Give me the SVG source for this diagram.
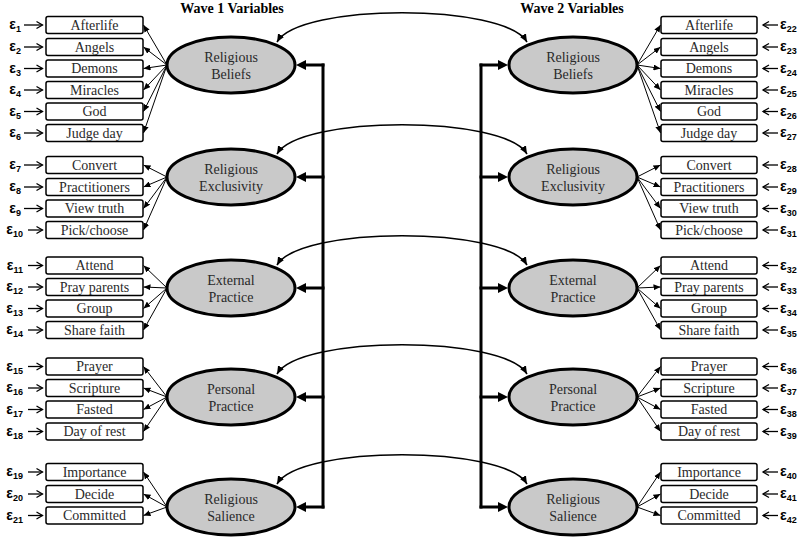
<svg xmlns="http://www.w3.org/2000/svg" width="800" height="537" viewBox="0 0 800 537">
<style>
.box{fill:#fff;stroke:#000;stroke-width:1.5}
.bt{font-family:"Liberation Serif",serif;font-size:14px;fill:#2a2a2a;text-anchor:middle}
.lv{fill:#c9c9c9;stroke:#000;stroke-width:3}
.lt{font-family:"Liberation Serif",serif;font-size:14px;fill:#2a2a2a;text-anchor:middle}
.ttl{font-family:"Liberation Serif",serif;font-size:14px;font-weight:bold;fill:#000;text-anchor:middle}
.eps{font-family:"Liberation Sans",Arial,sans-serif;font-size:14px;font-weight:bold;fill:#000}
.el{text-anchor:end}
.sub{font-size:9px}
.ld{stroke:#000;stroke-width:1;fill:none;marker-end:url(#ah)}
.ea{stroke:#000;stroke-width:1.3;fill:none;marker-end:url(#oa)}
.cv{stroke:#000;stroke-width:1.6;fill:none;marker-start:url(#ca);marker-end:url(#ca)}
.th{stroke:#000;stroke-width:3;fill:none;marker-end:url(#ta)}
.sp{stroke:#000;stroke-width:3;fill:none}
</style>
<defs>
<marker id="ah" viewBox="0 0 10 10" refX="10" refY="5" markerWidth="7" markerHeight="6" markerUnits="userSpaceOnUse" orient="auto" preserveAspectRatio="none"><path d="M0,0 L10,5 L0,10 z" fill="#000"/></marker>
<marker id="ca" viewBox="0 0 10 10" refX="10" refY="5" markerWidth="8" markerHeight="7" markerUnits="userSpaceOnUse" orient="auto-start-reverse" preserveAspectRatio="none"><path d="M0,0 L10,5 L0,10 z" fill="#000"/></marker>
<marker id="ta" viewBox="0 0 10 10" refX="6" refY="5" markerWidth="10" markerHeight="10" markerUnits="userSpaceOnUse" orient="auto" preserveAspectRatio="none"><path d="M0,0 L10,5 L0,10 z" fill="#000"/></marker>
<marker id="oa" viewBox="0 0 8 8" refX="7" refY="4" markerWidth="8" markerHeight="8" markerUnits="userSpaceOnUse" orient="auto" overflow="visible"><path d="M1,0.5 L7,4 L1,7.5" fill="none" stroke="#000" stroke-width="1.3"/></marker>
</defs>
<rect width="800" height="537" fill="#fff"/>
<text class="ttl" x="232" y="13">Wave 1 Variables</text>
<text class="ttl" x="572" y="13">Wave 2 Variables</text>

<g id="connectors">
<path class="cv" d="M277,42 C300,3 504,3 527,42"/>
<path class="cv" d="M277,154 C300,115 504,115 527,154"/>
<path class="cv" d="M277,265 C300,226 504,226 527,265"/>
<path class="cv" d="M277,374 C300,335 504,335 527,374"/>
<path class="cv" d="M277,484 C300,445 504,445 527,484"/>
<path class="sp" d="M323,63.5 V508.5"/>
<path class="sp" d="M481,63.5 V508.5"/>
<path class="th" d="M324.5,65 H300"/><path class="th" d="M324.5,177 H300"/><path class="th" d="M324.5,288 H300"/><path class="th" d="M324.5,397 H300"/><path class="th" d="M324.5,507 H300"/>
<path class="th" d="M479.5,65 H504"/><path class="th" d="M479.5,177 H504"/><path class="th" d="M479.5,288 H504"/><path class="th" d="M479.5,397 H504"/><path class="th" d="M479.5,507 H504"/>
<path class="ld" d="M167,65 L143.5,25"/><path class="ld" d="M167,65 L143.5,47"/><path class="ld" d="M167,65 L143.5,68.5"/><path class="ld" d="M167,65 L143.5,90"/><path class="ld" d="M167,65 L143.5,111.5"/><path class="ld" d="M167,65 L143.5,133"/>
<path class="ld" d="M167,177 L143.5,165"/><path class="ld" d="M167,177 L143.5,187"/><path class="ld" d="M167,177 L143.5,208.5"/><path class="ld" d="M167,177 L143.5,230"/>
<path class="ld" d="M167,288 L143.5,265.5"/><path class="ld" d="M167,288 L143.5,287"/><path class="ld" d="M167,288 L143.5,308.5"/><path class="ld" d="M167,288 L143.5,330"/>
<path class="ld" d="M167,397 L143.5,366.5"/><path class="ld" d="M167,397 L143.5,388"/><path class="ld" d="M167,397 L143.5,409.5"/><path class="ld" d="M167,397 L143.5,431.5"/>
<path class="ld" d="M167,507 L143.5,472"/><path class="ld" d="M167,507 L143.5,494"/><path class="ld" d="M167,507 L143.5,515.5"/>
<path class="ld" d="M637,65 L660.5,25"/><path class="ld" d="M637,65 L660.5,47"/><path class="ld" d="M637,65 L660.5,68.5"/><path class="ld" d="M637,65 L660.5,90"/><path class="ld" d="M637,65 L660.5,111.5"/><path class="ld" d="M637,65 L660.5,133"/>
<path class="ld" d="M637,177 L660.5,165"/><path class="ld" d="M637,177 L660.5,187"/><path class="ld" d="M637,177 L660.5,208.5"/><path class="ld" d="M637,177 L660.5,230"/>
<path class="ld" d="M637,288 L660.5,265.5"/><path class="ld" d="M637,288 L660.5,287"/><path class="ld" d="M637,288 L660.5,308.5"/><path class="ld" d="M637,288 L660.5,330"/>
<path class="ld" d="M637,397 L660.5,366.5"/><path class="ld" d="M637,397 L660.5,388"/><path class="ld" d="M637,397 L660.5,409.5"/><path class="ld" d="M637,397 L660.5,431.5"/>
<path class="ld" d="M637,507 L660.5,472"/><path class="ld" d="M637,507 L660.5,494"/><path class="ld" d="M637,507 L660.5,515.5"/>
<path class="ea" d="M24,25 H42.5"/><path class="ea" d="M24,47 H42.5"/><path class="ea" d="M24,68.5 H42.5"/><path class="ea" d="M24,90 H42.5"/><path class="ea" d="M24,111.5 H42.5"/><path class="ea" d="M24,133 H42.5"/>
<path class="ea" d="M24,165 H42.5"/><path class="ea" d="M24,187 H42.5"/><path class="ea" d="M24,208.5 H42.5"/><path class="ea" d="M28,230 H42.5"/>
<path class="ea" d="M28,265.5 H42.5"/><path class="ea" d="M28,287 H42.5"/><path class="ea" d="M28,308.5 H42.5"/><path class="ea" d="M28,330 H42.5"/>
<path class="ea" d="M28,366.5 H42.5"/><path class="ea" d="M28,388 H42.5"/><path class="ea" d="M28,409.5 H42.5"/><path class="ea" d="M28,431.5 H42.5"/>
<path class="ea" d="M28,472 H42.5"/><path class="ea" d="M28,494 H42.5"/><path class="ea" d="M28,515.5 H42.5"/>
<path class="ea" d="M778,25 H763"/><path class="ea" d="M778,47 H763"/><path class="ea" d="M778,68.5 H763"/><path class="ea" d="M778,90 H763"/><path class="ea" d="M778,111.5 H763"/><path class="ea" d="M778,133 H763"/>
<path class="ea" d="M778,165 H763"/><path class="ea" d="M778,187 H763"/><path class="ea" d="M778,208.5 H763"/><path class="ea" d="M778,230 H763"/>
<path class="ea" d="M778,265.5 H763"/><path class="ea" d="M778,287 H763"/><path class="ea" d="M778,308.5 H763"/><path class="ea" d="M778,330 H763"/>
<path class="ea" d="M778,366.5 H763"/><path class="ea" d="M778,388 H763"/><path class="ea" d="M778,409.5 H763"/><path class="ea" d="M778,431.5 H763"/>
<path class="ea" d="M778,472 H763"/><path class="ea" d="M778,494 H763"/><path class="ea" d="M778,515.5 H763"/>
</g>

<g id="w1-beliefs"><ellipse class="lv" cx="231" cy="65" rx="64" ry="28"/><text class="lt" x="231" y="61.5">Religious</text><text class="lt" x="231" y="79">Beliefs</text></g>
<g id="w1-exclusivity"><ellipse class="lv" cx="231" cy="177" rx="64" ry="28"/><text class="lt" x="231" y="173.5">Religious</text><text class="lt" x="231" y="191">Exclusivity</text></g>
<g id="w1-external"><ellipse class="lv" cx="231" cy="288" rx="64" ry="28"/><text class="lt" x="231" y="284.5">External</text><text class="lt" x="231" y="302">Practice</text></g>
<g id="w1-personal"><ellipse class="lv" cx="231" cy="397" rx="64" ry="28"/><text class="lt" x="231" y="393.5">Personal</text><text class="lt" x="231" y="411">Practice</text></g>
<g id="w1-salience"><ellipse class="lv" cx="231" cy="507" rx="64" ry="28"/><text class="lt" x="231" y="503.5">Religious</text><text class="lt" x="231" y="521">Salience</text></g>
<g id="w2-beliefs"><ellipse class="lv" cx="573" cy="65" rx="64" ry="28"/><text class="lt" x="573" y="61.5">Religious</text><text class="lt" x="573" y="79">Beliefs</text></g>
<g id="w2-exclusivity"><ellipse class="lv" cx="573" cy="177" rx="64" ry="28"/><text class="lt" x="573" y="173.5">Religious</text><text class="lt" x="573" y="191">Exclusivity</text></g>
<g id="w2-external"><ellipse class="lv" cx="573" cy="288" rx="64" ry="28"/><text class="lt" x="573" y="284.5">External</text><text class="lt" x="573" y="302">Practice</text></g>
<g id="w2-personal"><ellipse class="lv" cx="573" cy="397" rx="64" ry="28"/><text class="lt" x="573" y="393.5">Personal</text><text class="lt" x="573" y="411">Practice</text></g>
<g id="w2-salience"><ellipse class="lv" cx="573" cy="507" rx="64" ry="28"/><text class="lt" x="573" y="503.5">Religious</text><text class="lt" x="573" y="521">Salience</text></g>

<g id="w1-afterlife"><rect class="box" x="46" y="16.5" width="97" height="17" rx="2"/><text class="bt" x="94.5" y="29.5">Afterlife</text><text class="eps el" x="21" y="29">ε<tspan class="sub" dy="3">1</tspan></text></g>
<g id="w1-angels"><rect class="box" x="46" y="38.5" width="97" height="17" rx="2"/><text class="bt" x="94.5" y="51.5">Angels</text><text class="eps el" x="21" y="51">ε<tspan class="sub" dy="3">2</tspan></text></g>
<g id="w1-demons"><rect class="box" x="46" y="60" width="97" height="17" rx="2"/><text class="bt" x="94.5" y="73">Demons</text><text class="eps el" x="21" y="72.5">ε<tspan class="sub" dy="3">3</tspan></text></g>
<g id="w1-miracles"><rect class="box" x="46" y="81.5" width="97" height="17" rx="2"/><text class="bt" x="94.5" y="94.5">Miracles</text><text class="eps el" x="21" y="94">ε<tspan class="sub" dy="3">4</tspan></text></g>
<g id="w1-god"><rect class="box" x="46" y="103" width="97" height="17" rx="2"/><text class="bt" x="94.5" y="116">God</text><text class="eps el" x="21" y="115.5">ε<tspan class="sub" dy="3">5</tspan></text></g>
<g id="w1-judgeday"><rect class="box" x="46" y="124.5" width="97" height="17" rx="2"/><text class="bt" x="94.5" y="137.5">Judge day</text><text class="eps el" x="21" y="137">ε<tspan class="sub" dy="3">6</tspan></text></g>
<g id="w1-convert"><rect class="box" x="46" y="156.5" width="97" height="17" rx="2"/><text class="bt" x="94.5" y="169.5">Convert</text><text class="eps el" x="21" y="169">ε<tspan class="sub" dy="3">7</tspan></text></g>
<g id="w1-practitioners"><rect class="box" x="46" y="178.5" width="97" height="17" rx="2"/><text class="bt" x="94.5" y="191.5">Practitioners</text><text class="eps el" x="21" y="191">ε<tspan class="sub" dy="3">8</tspan></text></g>
<g id="w1-viewtruth"><rect class="box" x="46" y="200" width="97" height="17" rx="2"/><text class="bt" x="94.5" y="213">View truth</text><text class="eps el" x="21" y="212.5">ε<tspan class="sub" dy="3">9</tspan></text></g>
<g id="w1-pickchoose"><rect class="box" x="46" y="221.5" width="97" height="17" rx="2"/><text class="bt" x="94.5" y="234.5">Pick/choose</text><text class="eps el" x="23" y="234">ε<tspan class="sub" dy="3">10</tspan></text></g>
<g id="w1-attend"><rect class="box" x="46" y="257" width="97" height="17" rx="2"/><text class="bt" x="94.5" y="270">Attend</text><text class="eps el" x="23" y="269.5">ε<tspan class="sub" dy="3">11</tspan></text></g>
<g id="w1-prayparents"><rect class="box" x="46" y="278.5" width="97" height="17" rx="2"/><text class="bt" x="94.5" y="291.5">Pray parents</text><text class="eps el" x="23" y="291">ε<tspan class="sub" dy="3">12</tspan></text></g>
<g id="w1-group"><rect class="box" x="46" y="300" width="97" height="17" rx="2"/><text class="bt" x="94.5" y="313">Group</text><text class="eps el" x="23" y="312.5">ε<tspan class="sub" dy="3">13</tspan></text></g>
<g id="w1-sharefaith"><rect class="box" x="46" y="321.5" width="97" height="17" rx="2"/><text class="bt" x="94.5" y="334.5">Share faith</text><text class="eps el" x="23" y="334">ε<tspan class="sub" dy="3">14</tspan></text></g>
<g id="w1-prayer"><rect class="box" x="46" y="358" width="97" height="17" rx="2"/><text class="bt" x="94.5" y="371">Prayer</text><text class="eps el" x="23" y="370.5">ε<tspan class="sub" dy="3">15</tspan></text></g>
<g id="w1-scripture"><rect class="box" x="46" y="379.5" width="97" height="17" rx="2"/><text class="bt" x="94.5" y="392.5">Scripture</text><text class="eps el" x="23" y="392">ε<tspan class="sub" dy="3">16</tspan></text></g>
<g id="w1-fasted"><rect class="box" x="46" y="401" width="97" height="17" rx="2"/><text class="bt" x="94.5" y="414">Fasted</text><text class="eps el" x="23" y="413.5">ε<tspan class="sub" dy="3">17</tspan></text></g>
<g id="w1-dayofrest"><rect class="box" x="46" y="423" width="97" height="17" rx="2"/><text class="bt" x="94.5" y="436">Day of rest</text><text class="eps el" x="23" y="435.5">ε<tspan class="sub" dy="3">18</tspan></text></g>
<g id="w1-importance"><rect class="box" x="46" y="463.5" width="97" height="17" rx="2"/><text class="bt" x="94.5" y="476.5">Importance</text><text class="eps el" x="23" y="476">ε<tspan class="sub" dy="3">19</tspan></text></g>
<g id="w1-decide"><rect class="box" x="46" y="485.5" width="97" height="17" rx="2"/><text class="bt" x="94.5" y="498.5">Decide</text><text class="eps el" x="23" y="498">ε<tspan class="sub" dy="3">20</tspan></text></g>
<g id="w1-committed"><rect class="box" x="46" y="507" width="97" height="17" rx="2"/><text class="bt" x="94.5" y="520">Committed</text><text class="eps el" x="23" y="519.5">ε<tspan class="sub" dy="3">21</tspan></text></g>

<g id="w2-afterlife"><rect class="box" x="661" y="16.5" width="96" height="17" rx="2"/><text class="bt" x="709" y="29.5">Afterlife</text><text class="eps" x="780" y="29">ε<tspan class="sub" dy="3">22</tspan></text></g>
<g id="w2-angels"><rect class="box" x="661" y="38.5" width="96" height="17" rx="2"/><text class="bt" x="709" y="51.5">Angels</text><text class="eps" x="780" y="51">ε<tspan class="sub" dy="3">23</tspan></text></g>
<g id="w2-demons"><rect class="box" x="661" y="60" width="96" height="17" rx="2"/><text class="bt" x="709" y="73">Demons</text><text class="eps" x="780" y="72.5">ε<tspan class="sub" dy="3">24</tspan></text></g>
<g id="w2-miracles"><rect class="box" x="661" y="81.5" width="96" height="17" rx="2"/><text class="bt" x="709" y="94.5">Miracles</text><text class="eps" x="780" y="94">ε<tspan class="sub" dy="3">25</tspan></text></g>
<g id="w2-god"><rect class="box" x="661" y="103" width="96" height="17" rx="2"/><text class="bt" x="709" y="116">God</text><text class="eps" x="780" y="115.5">ε<tspan class="sub" dy="3">26</tspan></text></g>
<g id="w2-judgeday"><rect class="box" x="661" y="124.5" width="96" height="17" rx="2"/><text class="bt" x="709" y="137.5">Judge day</text><text class="eps" x="780" y="137">ε<tspan class="sub" dy="3">27</tspan></text></g>
<g id="w2-convert"><rect class="box" x="661" y="156.5" width="96" height="17" rx="2"/><text class="bt" x="709" y="169.5">Convert</text><text class="eps" x="780" y="169">ε<tspan class="sub" dy="3">28</tspan></text></g>
<g id="w2-practitioners"><rect class="box" x="661" y="178.5" width="96" height="17" rx="2"/><text class="bt" x="709" y="191.5">Practitioners</text><text class="eps" x="780" y="191">ε<tspan class="sub" dy="3">29</tspan></text></g>
<g id="w2-viewtruth"><rect class="box" x="661" y="200" width="96" height="17" rx="2"/><text class="bt" x="709" y="213">View truth</text><text class="eps" x="780" y="212.5">ε<tspan class="sub" dy="3">30</tspan></text></g>
<g id="w2-pickchoose"><rect class="box" x="661" y="221.5" width="96" height="17" rx="2"/><text class="bt" x="709" y="234.5">Pick/choose</text><text class="eps" x="780" y="234">ε<tspan class="sub" dy="3">31</tspan></text></g>
<g id="w2-attend"><rect class="box" x="661" y="257" width="96" height="17" rx="2"/><text class="bt" x="709" y="270">Attend</text><text class="eps" x="780" y="269.5">ε<tspan class="sub" dy="3">32</tspan></text></g>
<g id="w2-prayparents"><rect class="box" x="661" y="278.5" width="96" height="17" rx="2"/><text class="bt" x="709" y="291.5">Pray parents</text><text class="eps" x="780" y="291">ε<tspan class="sub" dy="3">33</tspan></text></g>
<g id="w2-group"><rect class="box" x="661" y="300" width="96" height="17" rx="2"/><text class="bt" x="709" y="313">Group</text><text class="eps" x="780" y="312.5">ε<tspan class="sub" dy="3">34</tspan></text></g>
<g id="w2-sharefaith"><rect class="box" x="661" y="321.5" width="96" height="17" rx="2"/><text class="bt" x="709" y="334.5">Share faith</text><text class="eps" x="780" y="334">ε<tspan class="sub" dy="3">35</tspan></text></g>
<g id="w2-prayer"><rect class="box" x="661" y="358" width="96" height="17" rx="2"/><text class="bt" x="709" y="371">Prayer</text><text class="eps" x="780" y="370.5">ε<tspan class="sub" dy="3">36</tspan></text></g>
<g id="w2-scripture"><rect class="box" x="661" y="379.5" width="96" height="17" rx="2"/><text class="bt" x="709" y="392.5">Scripture</text><text class="eps" x="780" y="392">ε<tspan class="sub" dy="3">37</tspan></text></g>
<g id="w2-fasted"><rect class="box" x="661" y="401" width="96" height="17" rx="2"/><text class="bt" x="709" y="414">Fasted</text><text class="eps" x="780" y="413.5">ε<tspan class="sub" dy="3">38</tspan></text></g>
<g id="w2-dayofrest"><rect class="box" x="661" y="423" width="96" height="17" rx="2"/><text class="bt" x="709" y="436">Day of rest</text><text class="eps" x="780" y="435.5">ε<tspan class="sub" dy="3">39</tspan></text></g>
<g id="w2-importance"><rect class="box" x="661" y="463.5" width="96" height="17" rx="2"/><text class="bt" x="709" y="476.5">Importance</text><text class="eps" x="780" y="476">ε<tspan class="sub" dy="3">40</tspan></text></g>
<g id="w2-decide"><rect class="box" x="661" y="485.5" width="96" height="17" rx="2"/><text class="bt" x="709" y="498.5">Decide</text><text class="eps" x="780" y="498">ε<tspan class="sub" dy="3">41</tspan></text></g>
<g id="w2-committed"><rect class="box" x="661" y="507" width="96" height="17" rx="2"/><text class="bt" x="709" y="520">Committed</text><text class="eps" x="780" y="519.5">ε<tspan class="sub" dy="3">42</tspan></text></g>
</svg>
